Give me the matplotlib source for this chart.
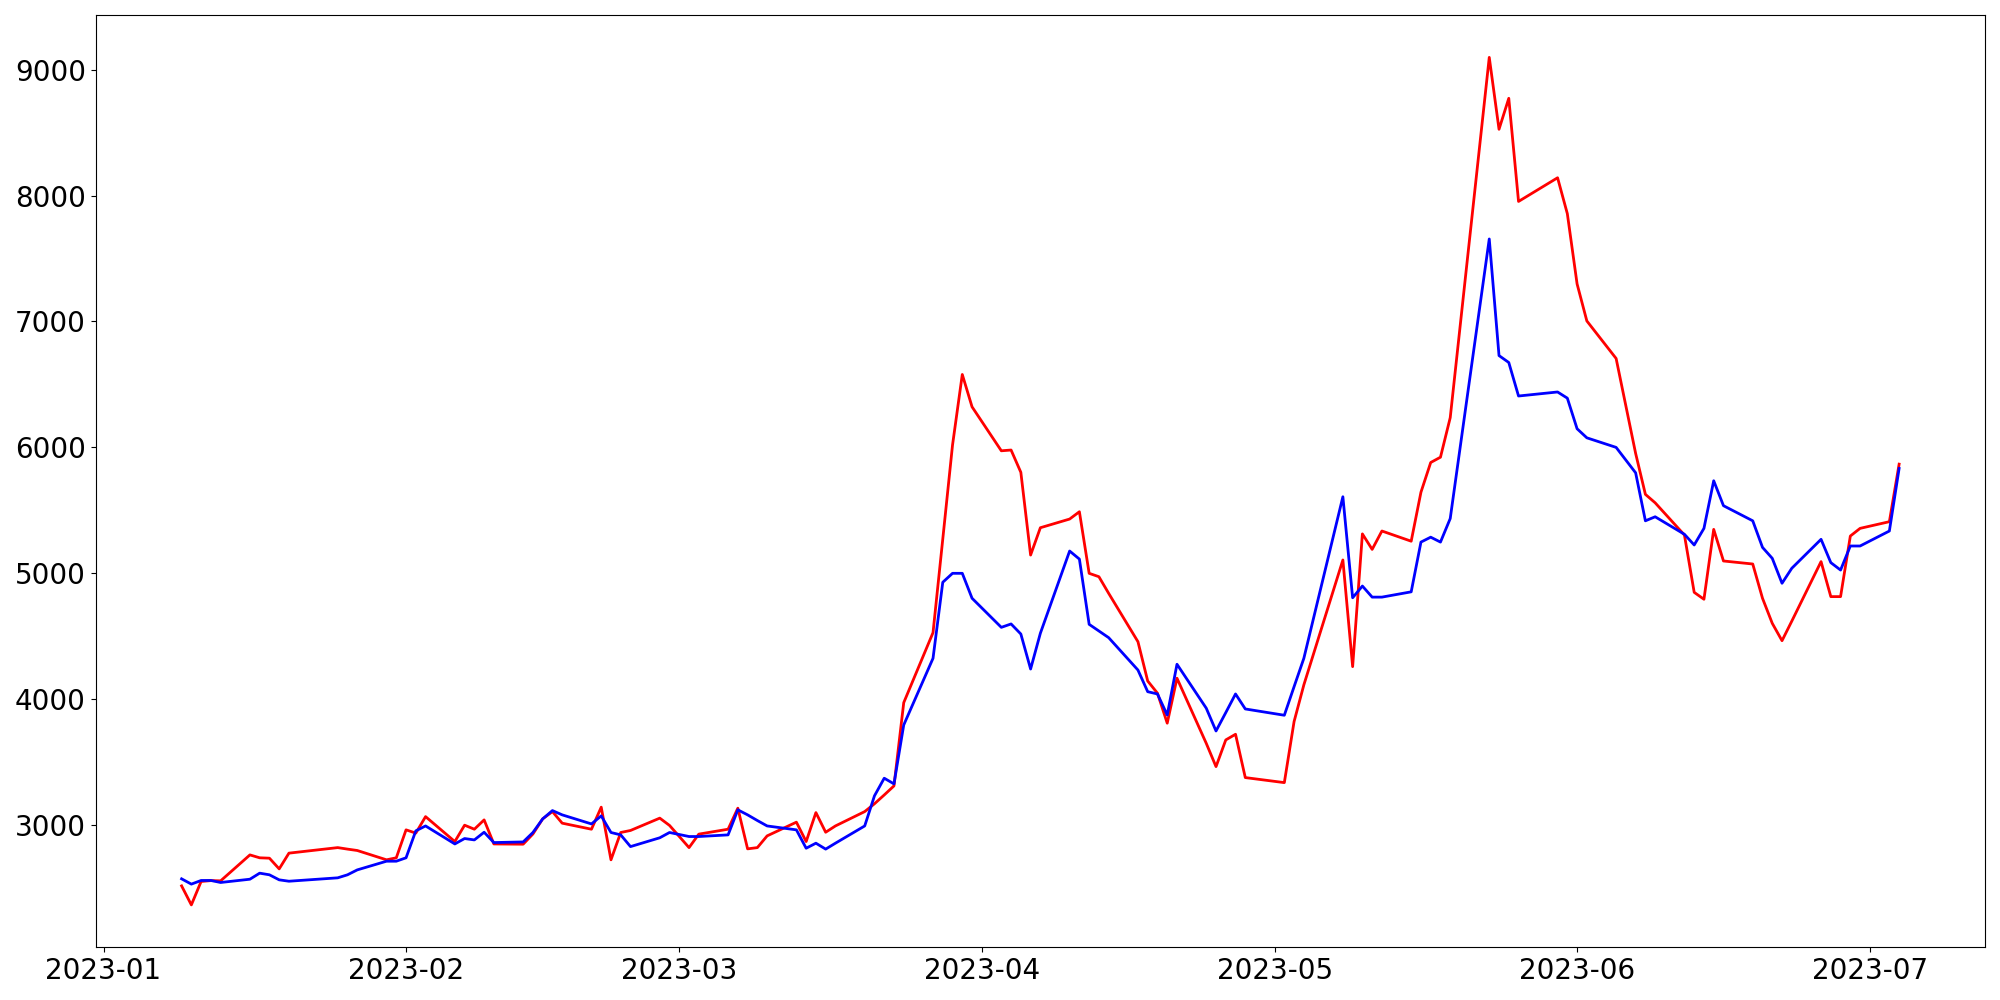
import numpy as np
import pandas as pd
import matplotlib
matplotlib.use("Agg")
import matplotlib.pyplot as plt

# trading days
dates = [
    "2023-01-09", "2023-01-10", "2023-01-11", "2023-01-12", "2023-01-13",
    "2023-01-16", "2023-01-17", "2023-01-18", "2023-01-19", "2023-01-20",
    "2023-01-25", "2023-01-26", "2023-01-27",
    "2023-01-30", "2023-01-31", "2023-02-01", "2023-02-02", "2023-02-03",
    "2023-02-06", "2023-02-07", "2023-02-08", "2023-02-09", "2023-02-10",
    "2023-02-13", "2023-02-14", "2023-02-15", "2023-02-16", "2023-02-17",
    "2023-02-20", "2023-02-21", "2023-02-22", "2023-02-23", "2023-02-24",
    "2023-02-27", "2023-02-28", "2023-03-02", "2023-03-03",
    "2023-03-06", "2023-03-07", "2023-03-08", "2023-03-09", "2023-03-10",
    "2023-03-13", "2023-03-14", "2023-03-15", "2023-03-16", "2023-03-17",
    "2023-03-20", "2023-03-21", "2023-03-22", "2023-03-23", "2023-03-24",
    "2023-03-27", "2023-03-28", "2023-03-29", "2023-03-30", "2023-03-31",
    "2023-04-03", "2023-04-04", "2023-04-05", "2023-04-06", "2023-04-07",
    "2023-04-10", "2023-04-11", "2023-04-12", "2023-04-13", "2023-04-14",
    "2023-04-17", "2023-04-18", "2023-04-19", "2023-04-20", "2023-04-21",
    "2023-04-24", "2023-04-25", "2023-04-26", "2023-04-27", "2023-04-28",
    "2023-05-02", "2023-05-03", "2023-05-04",
    "2023-05-08", "2023-05-09", "2023-05-10", "2023-05-11", "2023-05-12",
    "2023-05-15", "2023-05-16", "2023-05-17", "2023-05-18", "2023-05-19",
    "2023-05-23", "2023-05-24", "2023-05-25", "2023-05-26",
    "2023-05-30", "2023-05-31", "2023-06-01", "2023-06-02",
    "2023-06-05", "2023-06-07", "2023-06-08", "2023-06-09",
    "2023-06-12", "2023-06-13", "2023-06-14", "2023-06-15", "2023-06-16",
    "2023-06-19", "2023-06-20", "2023-06-21", "2023-06-22", "2023-06-23",
    "2023-06-26", "2023-06-27", "2023-06-28", "2023-06-29", "2023-06-30",
    "2023-07-03", "2023-07-04",
]

red = [
    2518, 2367, 2553, 2560, 2558,
    2764, 2741, 2738, 2653, 2778,
    2822, 2810, 2799,
    2725, 2741, 2963, 2937, 3068,
    2870, 3000, 2968, 3042, 2851,
    2849, 2930, 3050, 3108, 3016,
    2968, 3143, 2725, 2942, 2958,
    3056, 2998, 2822, 2929,
    2968, 3135, 2812, 2822, 2915,
    3024, 2870, 3100, 2944, 2994,
    3108, 3170, 3240, 3312, 3973,
    4529, 5272, 6019, 6579, 6322,
    5973, 5979, 5802, 5145, 5362,
    5431, 5489, 5000, 4973, 4841,
    4457, 4145, 4048, 3810, 4167,
    3650, 3465, 3677, 3722, 3378,
    3338, 3823, 4114,
    5106, 4259, 5313, 5190, 5336,
    5255, 5644, 5880, 5922, 6236,
    9097, 8526, 8772, 7953,
    8141, 7856, 7298, 7004,
    6706, 5952, 5627, 5560,
    5304, 4849, 4794, 5349, 5098,
    5074, 4802, 4603, 4465, 4620,
    5093, 4815, 4815, 5296, 5357,
    5410, 5867,
]

blue = [
    2574, 2532, 2561, 2561, 2545,
    2571, 2619, 2606, 2566, 2555,
    2582, 2606, 2645,
    2714, 2714, 2741, 2955, 2994,
    2851, 2894, 2883, 2944, 2862,
    2867, 2942, 3050, 3116, 3082,
    3010, 3074, 2942, 2923, 2830,
    2900, 2942, 2910, 2910,
    2923, 3122, 3082, 3037, 2994,
    2963, 2817, 2857, 2810, 2857,
    2994, 3233, 3373, 3328, 3796,
    4325, 4929, 5000, 5000, 4802,
    4571, 4598, 4518, 4240, 4524,
    5177, 5113, 4595, 4542, 4489,
    4232, 4060, 4042, 3875, 4278,
    3929, 3748, 3894, 4042, 3923,
    3873, 4100, 4325,
    5608, 4806, 4899, 4811, 4811,
    4853, 5248, 5287, 5248, 5435,
    7655, 6729, 6674, 6408,
    6440, 6391, 6148, 6076,
    6000, 5798, 5417, 5449,
    5310, 5225, 5357, 5735, 5537,
    5417, 5206, 5119, 4921, 5040,
    5270, 5085, 5026, 5217, 5217,
    5336, 5833,
]

x = pd.to_datetime(dates)

fig, ax = plt.subplots(figsize=(20, 10), dpi=100)
ax.plot(x, red, color='red', linewidth=2)
ax.plot(x, blue, color='blue', linewidth=2)
ax.tick_params(axis='both', labelsize=20)
plt.tight_layout()
plt.savefig('out.png')
